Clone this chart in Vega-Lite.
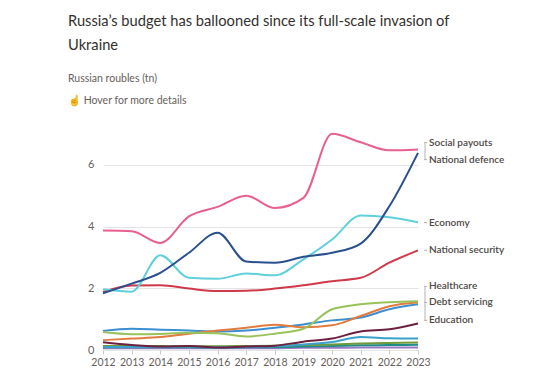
{
  "$schema": "https://vega.github.io/schema/vega-lite/v6.json",
  "autosize": {"type": "none"},
  "width": 315,
  "height": 216,
  "padding": {"left": 103, "top": 134, "right": 122, "bottom": 34},
  "background": "white",
  "config": {
    "font": "Lato",
    "view": {"stroke": null},
    "axis": {"labelFont": "Lato", "labelFontSize": 11, "labelColor": "#66605c", "title": null},
    "axisX": {"labelOverlap": false, "labelFontSize": 10.5, "labelFlush": false}
  },
  "title": {
    "text": ["Russia’s budget has ballooned since its full-scale invasion of", "Ukraine"],
    "subtitle": ["Russian roubles (tn)", "☝ Hover for more details"],
    "anchor": "start",
    "frame": "group",
    "dx": -35,
    "offset": 23,
    "font": "Lato",
    "fontSize": 14.7,
    "fontWeight": "normal",
    "color": "#33302e",
    "lineHeight": 24,
    "subtitleFont": "Lato",
    "subtitleFontSize": 10.5,
    "subtitleColor": "#66605c",
    "subtitleLineHeight": 22,
    "subtitlePadding": 21
  },
  "datasets": {
    "budget": [
      {"year": 2012, "Social payouts": 3.87, "National defence": 1.84, "Economy": 1.97, "National security": 1.88, "Healthcare": 0.58, "Debt servicing": 0.32, "Education": 0.62, "Housing and utilities": 0.25, "Environment": 0.10, "Culture": 0.13, "Sport": 0.09, "Media": 0.06},
      {"year": 2013, "Social payouts": 3.85, "National defence": 2.15, "Economy": 1.89, "National security": 2.09, "Healthcare": 0.51, "Debt servicing": 0.37, "Education": 0.69, "Housing and utilities": 0.16, "Environment": 0.10, "Culture": 0.13, "Sport": 0.09, "Media": 0.06},
      {"year": 2014, "Social payouts": 3.47, "National defence": 2.50, "Economy": 3.07, "National security": 2.10, "Healthcare": 0.52, "Debt servicing": 0.42, "Education": 0.66, "Housing and utilities": 0.11, "Environment": 0.10, "Culture": 0.13, "Sport": 0.09, "Media": 0.06},
      {"year": 2015, "Social payouts": 4.33, "National defence": 3.15, "Economy": 2.34, "National security": 1.99, "Healthcare": 0.56, "Debt servicing": 0.53, "Education": 0.63, "Housing and utilities": 0.13, "Environment": 0.11, "Culture": 0.12, "Sport": 0.09, "Media": 0.06},
      {"year": 2016, "Social payouts": 4.64, "National defence": 3.80, "Economy": 2.31, "National security": 1.91, "Healthcare": 0.54, "Debt servicing": 0.63, "Education": 0.60, "Housing and utilities": 0.08, "Environment": 0.09, "Culture": 0.12, "Sport": 0.08, "Media": 0.06},
      {"year": 2017, "Social payouts": 5.00, "National defence": 2.87, "Economy": 2.48, "National security": 1.92, "Healthcare": 0.44, "Debt servicing": 0.72, "Education": 0.63, "Housing and utilities": 0.11, "Environment": 0.10, "Culture": 0.13, "Sport": 0.09, "Media": 0.06},
      {"year": 2018, "Social payouts": 4.60, "National defence": 2.83, "Economy": 2.42, "National security": 1.99, "Healthcare": 0.53, "Debt servicing": 0.82, "Education": 0.72, "Housing and utilities": 0.14, "Environment": 0.12, "Culture": 0.14, "Sport": 0.09, "Media": 0.06},
      {"year": 2019, "Social payouts": 4.93, "National defence": 3.02, "Economy": 2.94, "National security": 2.10, "Healthcare": 0.69, "Debt servicing": 0.74, "Education": 0.83, "Housing and utilities": 0.27, "Environment": 0.18, "Culture": 0.16, "Sport": 0.11, "Media": 0.07},
      {"year": 2020, "Social payouts": 7.01, "National defence": 3.15, "Economy": 3.58, "National security": 2.23, "Healthcare": 1.32, "Debt servicing": 0.80, "Education": 0.96, "Housing and utilities": 0.37, "Environment": 0.26, "Culture": 0.18, "Sport": 0.13, "Media": 0.07},
      {"year": 2021, "Social payouts": 6.73, "National defence": 3.45, "Economy": 4.36, "National security": 2.34, "Healthcare": 1.48, "Debt servicing": 1.10, "Education": 1.05, "Housing and utilities": 0.60, "Environment": 0.42, "Culture": 0.21, "Sport": 0.15, "Media": 0.08},
      {"year": 2022, "Social payouts": 6.47, "National defence": 4.66, "Economy": 4.30, "National security": 2.83, "Healthcare": 1.55, "Debt servicing": 1.42, "Education": 1.32, "Housing and utilities": 0.67, "Environment": 0.38, "Culture": 0.23, "Sport": 0.16, "Media": 0.08},
      {"year": 2023, "Social payouts": 6.50, "National defence": 6.39, "Economy": 4.14, "National security": 3.23, "Healthcare": 1.58, "Debt servicing": 1.55, "Education": 1.48, "Housing and utilities": 0.86, "Environment": 0.37, "Culture": 0.24, "Sport": 0.17, "Media": 0.08}
    ],
    "labels": [
      {"name": "Social payouts", "labelY": 6.72, "bracket": "a"},
      {"name": "National defence", "labelY": 6.17, "bracket": "a"},
      {"name": "Economy", "labelY": 4.13, "bracket": null},
      {"name": "National security", "labelY": 3.23, "bracket": null},
      {"name": "Healthcare", "labelY": 2.06, "bracket": "c"},
      {"name": "Debt servicing", "labelY": 1.54, "bracket": "c"},
      {"name": "Education", "labelY": 0.96, "bracket": "c"}
    ]
  },
  "layer": [
    {
      "data": {"name": "budget"},
      "transform": [
        {"fold": ["Media", "Sport", "Culture", "Environment", "Housing and utilities", "Education", "Debt servicing", "Healthcare", "National security", "Economy", "National defence", "Social payouts"], "as": ["series", "value"]}
      ],
      "mark": {"type": "line", "interpolate": "monotone", "strokeWidth": 2},
      "encoding": {
        "x": {
          "field": "year", "type": "quantitative",
          "scale": {"domain": [2012, 2023], "nice": false, "zero": false},
          "axis": {"values": [2012, 2013, 2014, 2015, 2016, 2017, 2018, 2019, 2020, 2021, 2022, 2023], "format": "d", "grid": false, "domain": false, "ticks": true, "tickColor": "#c8c8c8", "tickSize": 4, "labelPadding": 3, "labelFlush": false, "labelOverlap": false, "labelFontSize": 10.5}
        },
        "y": {
          "field": "value", "type": "quantitative",
          "scale": {"domain": [0, 7], "nice": false},
          "axis": {"values": [0, 2, 4, 6], "domain": false, "ticks": false, "labelPadding": 9, "grid": true, "gridColor": "#e4e4e4", "gridWidth": 1}
        },
        "color": {
          "field": "series", "type": "nominal", "legend": null,
          "scale": {
            "domain": ["Social payouts", "National defence", "Economy", "National security", "Healthcare", "Debt servicing", "Education", "Housing and utilities", "Environment", "Culture", "Sport", "Media"],
            "range": ["#e8608f", "#2a4f8f", "#5fd0dc", "#d0394a", "#98c25a", "#e27c3e", "#3b8fd1", "#6c1f3e", "#3aa0cc", "#6f9a3c", "#1e8c88", "#9a7ac4"]
          }
        },
        "order": {"field": "series", "sort": "ascending"}
      }
    },
    {
      "data": {"name": "labels"},
      "mark": {"type": "rule", "stroke": "#b8b4b0", "strokeWidth": 1, "xOffset": 6, "x2Offset": 9},
      "encoding": {
        "x": {"datum": 2023, "type": "quantitative", "axis": {"values": [2012, 2013, 2014, 2015, 2016, 2017, 2018, 2019, 2020, 2021, 2022, 2023], "labelOverlap": false, "format": "d"}},
        "x2": {"datum": 2023},
        "y": {"field": "labelY", "type": "quantitative", "axis": {"values": [0, 2, 4, 6]}}
      }
    },
    {
      "data": {"name": "labels"},
      "transform": [
        {"filter": "datum.bracket != null"},
        {"aggregate": [{"op": "min", "field": "labelY", "as": "lo"}, {"op": "max", "field": "labelY", "as": "hi"}], "groupby": ["bracket"]}
      ],
      "mark": {"type": "rule", "stroke": "#b8b4b0", "strokeWidth": 1, "xOffset": 7},
      "encoding": {
        "x": {"datum": 2023, "type": "quantitative", "axis": {"values": [2012, 2013, 2014, 2015, 2016, 2017, 2018, 2019, 2020, 2021, 2022, 2023], "labelOverlap": false, "format": "d"}},
        "y": {"field": "lo", "type": "quantitative", "axis": {"values": [0, 2, 4, 6]}},
        "y2": {"field": "hi"}
      }
    },
    {
      "data": {"name": "labels"},
      "mark": {"type": "text", "align": "left", "baseline": "middle", "dx": 11, "fontSize": 10, "fontWeight": 600, "color": "#4d4845", "font": "Lato"},
      "encoding": {
        "x": {"datum": 2023, "type": "quantitative", "axis": {"values": [2012, 2013, 2014, 2015, 2016, 2017, 2018, 2019, 2020, 2021, 2022, 2023], "labelOverlap": false, "format": "d"}},
        "y": {"field": "labelY", "type": "quantitative", "axis": {"values": [0, 2, 4, 6]}},
        "text": {"field": "name"}
      }
    }
  ]
}
